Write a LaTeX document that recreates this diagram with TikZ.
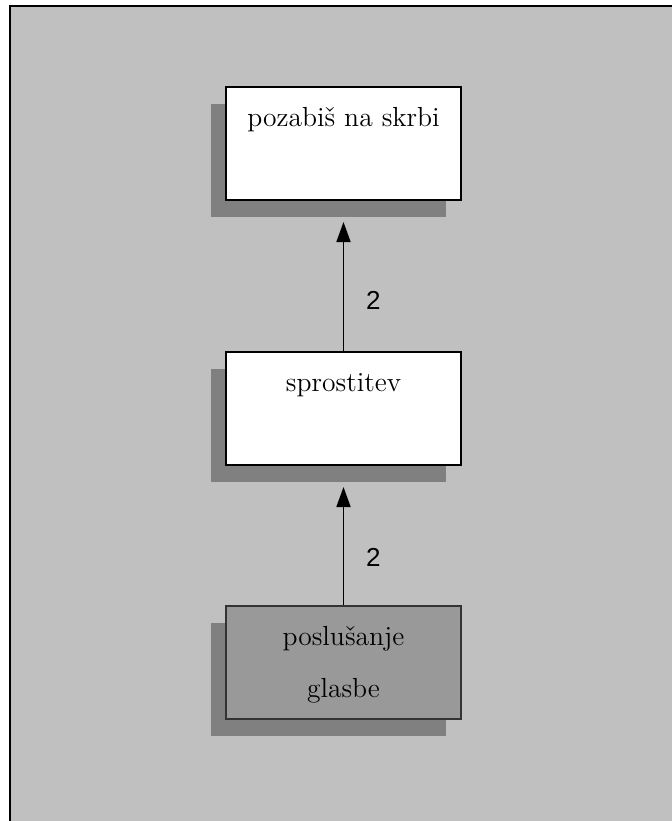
\documentclass[tikz,border=0pt]{standalone}
\usepackage{fontspec}
\newfontfamily\poidsfont{Liberation Sans}
\usetikzlibrary{shadows,arrows.meta}

\definecolor{fond}{HTML}{C0C0C0}
\definecolor{ombre}{HTML}{808080}
\definecolor{actif}{HTML}{999999}

\begin{document}
\begin{tikzpicture}[x=0.5pt,y=-0.5pt,
    boite/.style={draw, line width=1pt, fill=white, inner sep=0pt, anchor=base,
        minimum width=117.5pt, text height=19.5pt, text depth=37pt,
        font=\fontsize{13.8}{16}\selectfont,
        drop shadow={shadow xshift=-7.75pt, shadow yshift=-8.25pt, fill=ombre, opacity=1}},
    fleche/.style={-{Triangle[length=10pt,width=7pt]}, line width=0.9pt, shorten >=10.5pt},
    poids/.style={right=7.5pt, pos=0.34, font=\poidsfont\fontsize{13}{15}\selectfont}]

\useasboundingbox (0,0) rectangle (672,821);
\clip (0,0) rectangle (672,821);

%cadre

\draw[line width=1.2pt, fill=fond] (10,6) rectangle (700,850);

%noeuds

\node[boite] (skrbi) at (343.5,126) {pozabiš na skrbi};
\node[boite] (sprostitev) at (343.5,391) {sprostitev};
\node[boite, fill=actif, draw=black!80] (glasba) at (343.5,645) {
    \begin{tabular}[t]{@{}c@{}}
        poslušanje\\[10pt]
        glasbe
    \end{tabular}
};

%flèches

\draw[fleche] (sprostitev.north) -- (skrbi.south) node[poids] {2};
\draw[fleche] (glasba.north) -- (sprostitev.south) node[poids] {2};
\end{tikzpicture}
\end{document}
